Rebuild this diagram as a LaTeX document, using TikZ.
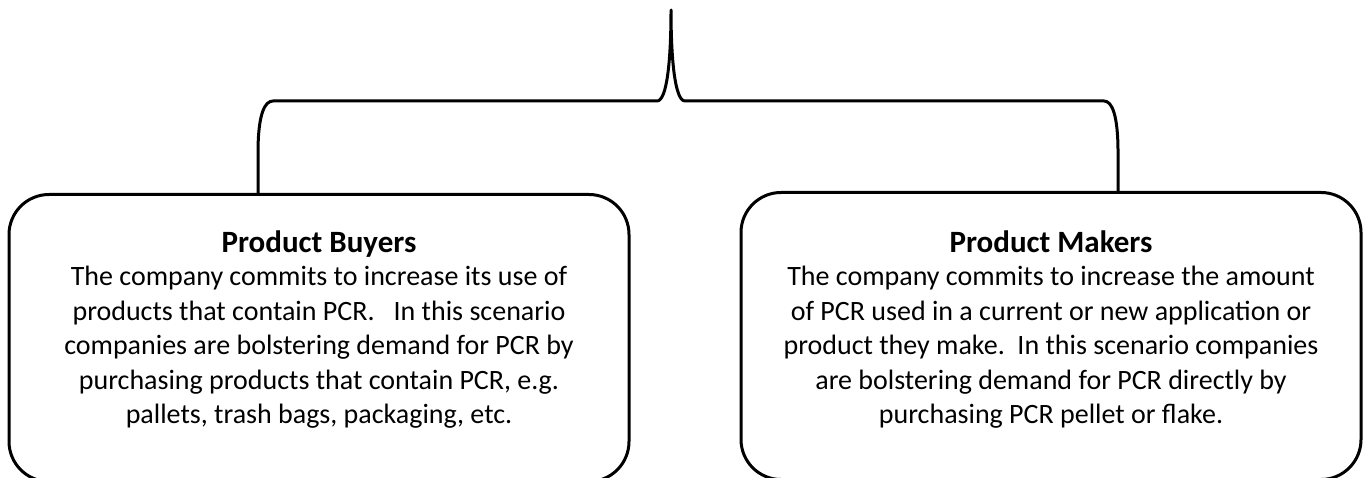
\documentclass[tikz,border=0pt]{standalone}
\usepackage{fontspec}
\setmainfont{Carlito}
\begin{document}
\begin{tikzpicture}[x=1pt,y=-1pt,
  boxstyle/.style={draw=black,line width=3pt,rounded corners=40pt,minimum width=620pt,minimum height=287pt,anchor=north,inner sep=0pt},
  titlestyle/.style={font=\bfseries\fontsize{31}{34}\selectfont,anchor=base,inner sep=0pt},
  txt/.style={align=center,font=\fontsize{28}{34.5}\selectfont,anchor=north,inner sep=0pt},
  bracestyle/.style={draw=black,line width=3pt,line join=round}]
\useasboundingbox (0,0) rectangle (1364,478);
\begin{scope}
\clip (0,0) rectangle (1364,478);
\node[boxstyle] (lb) at (319,193) {};
\node[boxstyle] (rb) at (1051,191) {};
\node[titlestyle] (lh) at (319,252) {Product Buyers};
\node[txt] (lt) at (319,266) {The company commits to increase its use of\\
products that contain PCR.\ \ \ In this scenario\\
companies are bolstering demand for PCR by\\
purchasing products that contain PCR, e.g.\\
pallets, trash bags, packaging, etc.};
\node[titlestyle] (rh) at (1051,252) {Product Makers};
\node[txt] (rt) at (1051,266) {The company commits to increase the amount\\
of PCR used in a current or new application or\\
product they make.\ \ In this scenario companies\\
are bolstering demand for PCR directly by\\
purchasing PCR pellet or flake.};
\coordinate (bl) at ([xshift=-61pt]lb.north);
\coordinate (br) at ([xshift=67pt]rb.north);
\coordinate (tip) at (671,10);
\draw[bracestyle] (bl) -- ++(0,-40) .. controls +(0,-40) and (265,101) .. (273,101)
  -- (657,101) .. controls (667,101) and (671,60) .. (tip)
  .. controls (671,60) and (675,101) .. (685,101)
  -- (1104,101) .. controls (1112,101) and (1118,115) .. (1118,152) -- (br);
\end{scope}
\end{tikzpicture}
\end{document}
